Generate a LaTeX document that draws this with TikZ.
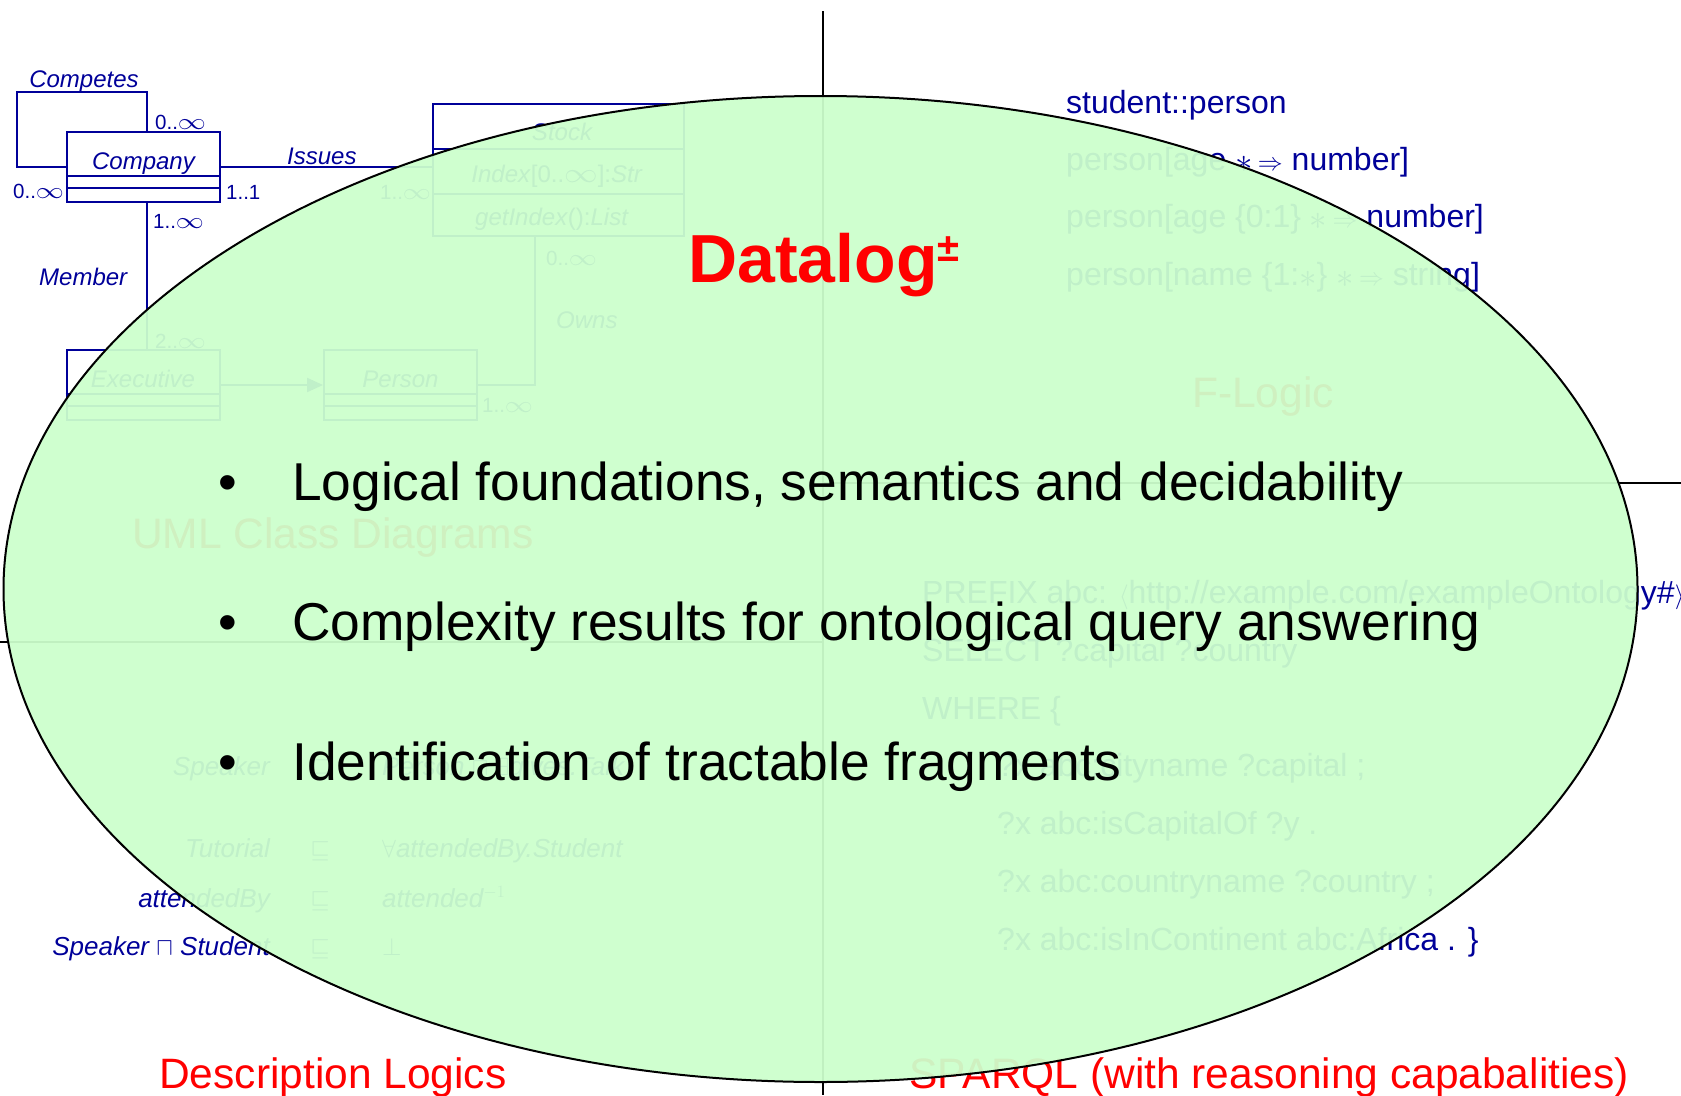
\documentclass[tikz,border=0pt]{standalone}
\usepackage{fontspec}
\setmainfont{Liberation Sans}
\usepackage{graphicx}
\usetikzlibrary{arrows.meta}
\definecolor{umlblue}{RGB}{0,0,153}
\definecolor{ovalgreen}{RGB}{204,255,204}
\newcommand{\fs}[1]{\fontsize{#1}{#1}\selectfont}
\newcommand{\infy}{\scalebox{1.35}[1.1]{$\infty$}}
\newcommand{\bigstar}{\raisebox{-2pt}{\scalebox{1.4}{$\ast$}}}
\newcommand{\stararrow}{\bigstar\,$\Rightarrow$}
\begin{document}
\begin{tikzpicture}[x=1pt,y=-1pt,
  uml/.style={draw=umlblue, line width=2pt},
  classbox/.style={uml, rectangle, inner sep=0pt, minimum width=#1, minimum height=70pt},
  classbox/.default=153pt,
  classname/.style={text=umlblue, font=\fs{24}\itshape, anchor=base, inner sep=0pt},
  mult/.style={text=umlblue, font=\fs{20.5}, anchor=base west, inner sep=0pt},
  role/.style={text=umlblue, font=\fs{24}\itshape, anchor=base west, inner sep=0pt},
  quadtitle/.style={text=red, font=\fs{42.5}, anchor=base west, inner sep=0pt},
  code/.style={text=umlblue, font=\fs{32}, anchor=base west, inner sep=0pt},
  dl/.style={text=umlblue, font=\fs{26}\itshape, inner sep=0pt},
  axis/.style={draw=black, line width=2pt},
  bullet/.style={text=black, font=\fs{53.3}, anchor=base west, inner sep=0pt}]
\useasboundingbox (0,0) rectangle (1681,1095);

% quadrant dividers
\coordinate (vtop) at (823,11);
\coordinate (vbot) at (823,1095);
\coordinate (hlw) at (0,642);
\coordinate (hle) at (823,642);
\coordinate (hrw) at (823,483);
\coordinate (hre) at (1681,483);
\draw[axis] (vtop) -- (vbot);
\draw[axis] (hlw) -- (hle);
\draw[axis] (hrw) -- (hre);

% ---------- UML class diagram ----------
\node[classbox] (company) at (143.5,167) {};
\node[classbox] (executive) at (143,385) {};
\node[classbox] (person) at (400.5,385) {};
\node[classbox=251pt, minimum height=132pt] (stock) at (558.5,170) {};
\foreach \c in {company,executive,person}{
  \draw[uml] ([yshift=-45pt]\c.north west) -- ([yshift=-45pt]\c.north east);
  \draw[uml] ([yshift=-57pt]\c.north west) -- ([yshift=-57pt]\c.north east);
}
\draw[uml] ([yshift=-46pt]stock.north west) -- ([yshift=-46pt]stock.north east);
\draw[uml] ([yshift=-91pt]stock.north west) -- ([yshift=-91pt]stock.north east);

\node[classname] (companyname) at (143.5,169) {Company};
\node[classname] (executivename) at (143,387) {Executive};
\node[classname] (personname) at (400.5,387) {Person};
\node[classname] (stockname) at (562,140) {Stock};
\node[classname, font=\fs{24}] (stockattr) at (557,182) {\textit{Index}[0..\infy]:\textit{Str}};
\node[classname, font=\fs{24}] (stockop) at (552,225) {\textit{getIndex}():\textit{List}};

% associations
\coordinate (cmp1) at (147,92);
\coordinate (cmp2) at (17,92);
\coordinate (cmp3) at (17,167);
\draw[uml] (cmp1 |- company.north) -- (cmp1) -- (cmp2) -- (cmp3) -- (company.west);
\draw[uml] (company.east) -- (company.east -| stock.west);
\draw[uml] (cmp1 |- company.south) -- (cmp1 |- executive.north);
\draw[uml, -{Triangle[length=16pt, width=14pt]}] (executive.east) -- (person.west);
\coordinate (own) at (535,385);
\draw[uml] (person.east) -- (own) -- (own |- stock.south);

% association labels
\node[role, anchor=base] (competes) at (84,87) {Competes};
\node[mult] (m1) at (155,129) {0..\infy};
\node[mult] (m2) at (13,198) {0..\infy};
\node[mult] (m3) at (226,199) {1..1};
\node[role] (issues) at (287,164) {Issues};
\node[mult] (m4) at (380,199) {1..\infy};
\node[mult] (m5) at (153,228) {1..\infy};
\node[role] (member) at (39,285) {Member};
\node[mult] (m6) at (155,348) {2..\infy};
\node[mult] (m7) at (546,265) {0..\infy};
\node[role] (owns) at (556,328) {Owns};
\node[mult] (m8) at (482,412) {1..\infy};

% ---------- F-Logic ----------
\node[code] (fl1) at (1066,113) {student::person};
\node[code] (fl2) at (1066,170) {person[age \stararrow\ number]};
\node[code] (fl3) at (1066,227) {person[age \{0:1\} \stararrow\ number]};
\node[code] (fl4) at (1066,285) {person[name \{1:\bigstar\} \stararrow\ string]};

% ---------- SPARQL ----------
\node[code] (sq1) at (922,603) {PREFIX abc: $\langle$http://example.com/exampleOntology\#$\rangle$};
\node[code] (sq2) at (922,661) {SELECT ?capital ?country};
\node[code] (sq3) at (922,719) {WHERE \{};
\node[code] (sq4) at (997,776) {?x abc:cityname ?capital ;};
\node[code] (sq5) at (997,834) {?x abc:isCapitalOf ?y .};
\node[code] (sq6) at (997,892) {?x abc:countryname ?country ;};
\node[code] (sq7) at (997,950) {?x abc:isInContinent abc:Africa . \}};

% ---------- Description Logics ----------
\node[dl, anchor=base east] (dl1l) at (270,775) {Speaker};
\node[dl, anchor=base] (dl1m) at (320,775) {$\sqsubseteq$};
\node[dl, anchor=base west] (dl1r) at (382,775) {Person $\sqcap$ $\exists$gives.Talk};
\node[dl, anchor=base east] (dl2l) at (270,857) {Tutorial};
\node[dl, anchor=base] (dl2m) at (320,857) {$\sqsubseteq$};
\node[dl, anchor=base west] (dl2r) at (382,857) {$\forall$attendedBy.Student};
\node[dl, anchor=base east] (dl3l) at (270,907) {attendedBy};
\node[dl, anchor=base] (dl3m) at (320,907) {$\sqsubseteq$};
\node[dl, anchor=base west] (dl3r) at (382,907) {attended$^{-1}$};
\node[dl, anchor=base east] (dl4l) at (270,955) {Speaker $\sqcap$ Student};
\node[dl, anchor=base] (dl4m) at (320,955) {$\sqsubseteq$};
\node[dl, anchor=base west] (dl4r) at (382,955) {$\bot$};

% quadrant titles
\node[quadtitle] (umltitle) at (132,548) {UML Class Diagrams};
\node[quadtitle, anchor=base] (fltitle) at (1263,407) {F-Logic};
\node[quadtitle] (dltitle) at (159,1088) {Description Logics};
\node[quadtitle] (sqtitle) at (909,1088) {SPARQL (with reasoning capabalities)};

% ---------- Datalog+/- oval ----------
\path[draw=black, line width=2pt, fill=ovalgreen, fill opacity=0.94]
  (820.5,589) ellipse [x radius=817, y radius=493];

\node[anchor=base west, text=red, font=\fs{68}\bfseries, inner sep=0pt] (datalog)
  at (688,282) {Datalog\raisebox{21pt}{\fs{40}±}};
\node[bullet] (b1) at (218,500) {\makebox[74pt][l]{•}Logical foundations, semantics and decidability};
\node[bullet] (b2) at (218,640) {\makebox[74pt][l]{•}Complexity results for ontological query answering};
\node[bullet] (b3) at (218,780) {\makebox[74pt][l]{•}Identification of tractable fragments};
\end{tikzpicture}
\end{document}
